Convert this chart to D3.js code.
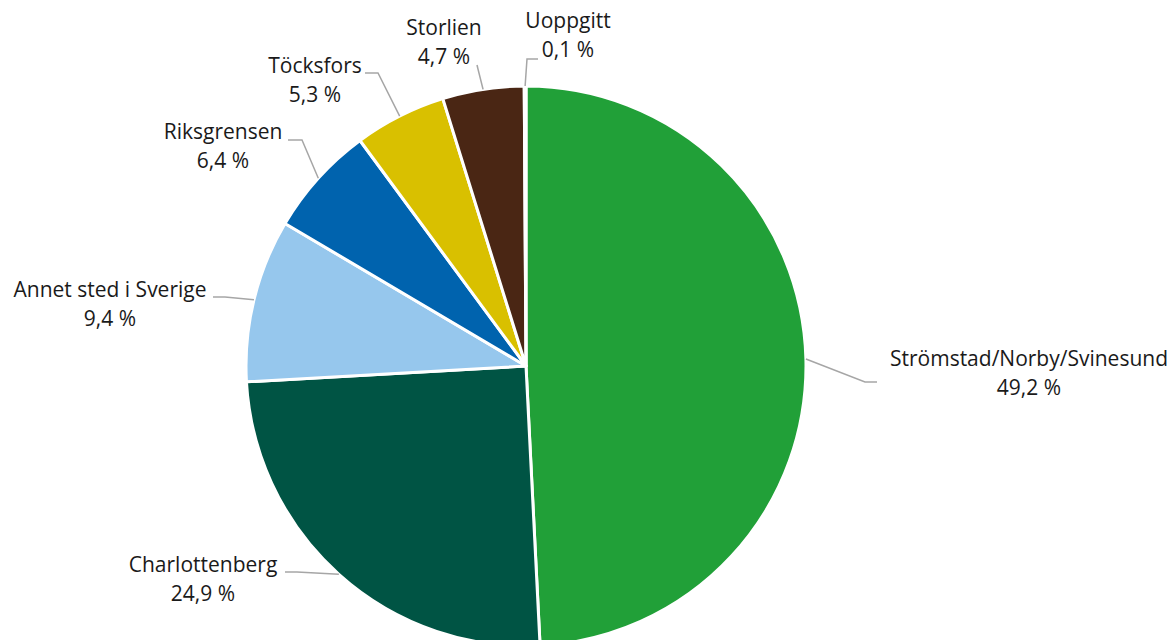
<!DOCTYPE html>
<html lang="no">
<head>
  <meta charset="UTF-8">
  <title>Grenseoverganger</title>
  <script src="https://d3js.org/d3.v7.min.js"></script>
  <style>
    body { margin: 0; background: #fff; }
    text { font-family: "Open Sans", sans-serif; font-size: 21px; fill: #1a1a1a; }
  </style>
</head>
<body>
<div id="chart"></div>
<script>
// Data
const categories = ["Strömstad/Norby/Svinesund", "Charlottenberg", "Annet sted i Sverige",
  "Riksgrensen", "Töcksfors", "Storlien", "Uoppgitt"];
const shares = [49.2, 24.9, 9.4, 6.4, 5.3, 4.7, 0.1];

const colors = ["#21a038", "#005444", "#96c7ed", "#0063ae", "#d9c000", "#4a2614", "#a6a6a6"];

// label layout: text centre x, first baseline y, leader end point, stub direction
const labelLayout = [
  { tx: 1029, ty: 366, ex: 877, ey: 382, stub: -12 },
  { tx: 203, ty: 572, ex: 285, ey: 572, stub: 12 },
  { tx: 110, ty: 297, ex: 213, ey: 297, stub: 12 },
  { tx: 223, ty: 139, ex: 288, ey: 140, stub: 14 },
  { tx: 315, ty: 73, ex: 365, ey: 73, stub: 13 },
  { tx: 444, ty: 35, ex: 477, ey: 65, stub: 0 },
  { tx: 568, ty: 28, ex: 538, ey: 59, stub: -11 }
];

const width = 1173, height = 640;
const cx = 526, cy = 366, radius = 280;
const lineGap = 29;

const svg = d3.select("#chart").append("svg")
  .attr("width", width)
  .attr("height", height);

const data = categories.map((c, i) => ({ category: c, value: shares[i] }));

const pie = d3.pie().value(d => d.value).sort(null);
const arc = d3.arc().innerRadius(0).outerRadius(radius);
const arcs = pie(data);

const g = svg.append("g").attr("transform", `translate(${cx},${cy})`);

g.selectAll("path.slice")
  .data(arcs)
  .enter()
  .append("path")
  .attr("class", "slice")
  .attr("d", arc)
  .attr("fill", (d, i) => colors[i])
  .attr("stroke", "#fff")
  .attr("stroke-width", 3)
  .attr("stroke-linejoin", "round");

// leader lines
const edge = d3.arc().innerRadius(radius).outerRadius(radius);
svg.selectAll("polyline.leader")
  .data(arcs)
  .enter()
  .append("polyline")
  .attr("class", "leader")
  .attr("fill", "none")
  .attr("stroke", "#a6a6a6")
  .attr("stroke-width", 1.5)
  .attr("points", (d, i) => {
    const mid = (d.startAngle + d.endAngle) / 2;
    const sx = cx + radius * Math.sin(mid);
    const sy = cy - radius * Math.cos(mid);
    const L = labelLayout[i];
    return [[sx, sy], [L.ex + L.stub, L.ey], [L.ex, L.ey]].map(p => p.join(",")).join(" ");
  });

const fmt = v => d3.format(".1f")(v).replace(".", ",") + " %";

const labels = svg.selectAll("text.label")
  .data(arcs)
  .enter()
  .append("text")
  .attr("class", "label")
  .attr("text-anchor", "middle");

labels.append("tspan")
  .attr("x", (d, i) => labelLayout[i].tx)
  .attr("y", (d, i) => labelLayout[i].ty)
  .text(d => d.data.category);

labels.append("tspan")
  .attr("x", (d, i) => labelLayout[i].tx)
  .attr("y", (d, i) => labelLayout[i].ty + lineGap)
  .text(d => fmt(d.data.value));
</script>
</body>
</html>
